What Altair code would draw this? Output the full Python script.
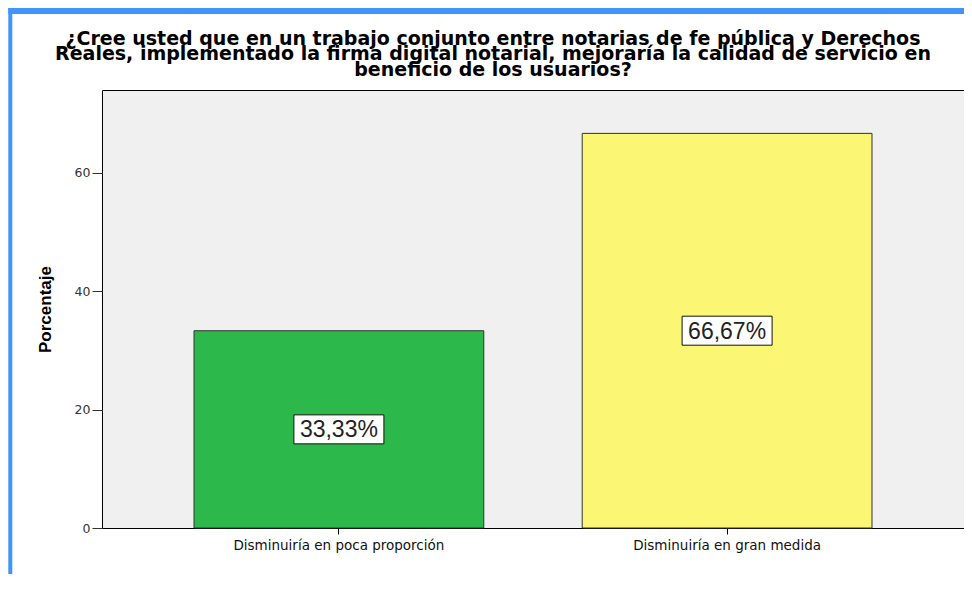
import altair as alt
import pandas as pd

categories = ["Disminuiría en poca proporción", "Disminuiría en gran medida"]
values = [33.33, 66.67]
labels = ["33,33%", "66,67%"]
colors = ["#2db84b", "#fbf774"]
y_ticks = [0, 20, 40, 60]
title_lines = [
    "¿Cree usted que en un trabajo conjunto entre notarias de fe pública y Derechos",
    "Reales, implementado la firma digital notarial, mejoraría la calidad de servicio en",
    "beneficio de los usuarios?",
]

df = pd.DataFrame({"cat": categories, "val": values, "lab": labels})
df["half"] = df["val"] / 2

W, H = 862, 438
x_enc = alt.X(
    "cat:N",
    sort=categories,
    scale=alt.Scale(paddingInner=0.2535, paddingOuter=0.237),
    axis=alt.Axis(
        title=None, labelAngle=0, labelFont="DejaVu Sans", labelFontSize=13.5,
        labelColor="#111", tickSize=6, tickColor="#000", domain=False, labelPadding=4,
        labelLimit=0,
    ),
)
y_scale = alt.Scale(domain=[0, 74], nice=False)

base = alt.Chart(df)

bars = base.mark_bar(stroke="#333", strokeWidth=1).encode(
    x=x_enc,
    y=alt.Y(
        "val:Q",
        scale=y_scale,
        axis=alt.Axis(
            values=y_ticks, title="Porcentaje", titleFont="Liberation Sans",
            titleFontWeight="bold", titleFontSize=17, titleColor="#000",
            titleX=-57, titleY=H / 2, titleAngle=-90, titleAlign="center",
            titleBaseline="middle", labelFont="DejaVu Sans", labelFontSize=12.5,
            labelColor="#333", tickColor="#333", tickSize=10, labelPadding=2,
            domain=False, grid=False,
        ),
    ),
    color=alt.Color("cat:N", scale=alt.Scale(domain=categories, range=colors), legend=None),
)

boxes = base.mark_point(
    shape="M-1,-0.3222L1,-0.3222L1,0.3222L-1,0.3222Z",
    size=8100, filled=True, fill="white", stroke="#111", strokeWidth=1, opacity=1,
).encode(x=alt.X("cat:N", sort=categories), y=alt.Y("half:Q", scale=y_scale))

texts = base.mark_text(
    font="Liberation Sans", fontSize=23, color="#222", baseline="middle", align="center", dy=1,
).encode(x=alt.X("cat:N", sort=categories), y=alt.Y("half:Q", scale=y_scale), text="lab:N")

one = alt.Data(values=[{"k": 1}])
blue = "#3f95fa"
frame_left = alt.Chart(one).mark_rect(color=blue, clip=False).encode(
    x=alt.value(-93.7), x2=alt.value(-89.7), y=alt.value(-95), y2=alt.value(530)
)
frame_top = alt.Chart(one).mark_rect(color=blue, clip=False).encode(
    x=alt.value(-93.7), x2=alt.value(900), y=alt.value(-95), y2=alt.value(-76)
)

title = alt.Chart(one).mark_text(
    font="DejaVu Sans", fontWeight="bold", fontSize=19, lineHeight=15.5,
    align="center", baseline="alphabetic", color="#000", clip=False,
).encode(x=alt.value(391), y=alt.value(-45.5), text=alt.value(title_lines))

chart = alt.layer(bars, boxes, texts, frame_left, frame_top, title).properties(
    width=W,
    height=H,
    padding={"left": 94, "top": 82, "right": 0, "bottom": 46},
    autosize=alt.AutoSizeParams(type="none"),
    background="white",
).configure_view(fill="#f0f0f0", stroke="#000", strokeWidth=1)

chart.save("out.html", embed_options={"renderer": "svg", "actions": False})
